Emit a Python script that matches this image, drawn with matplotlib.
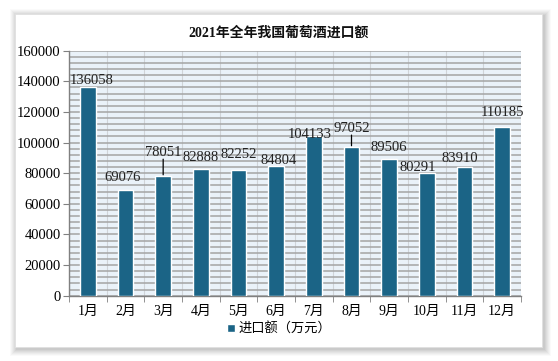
import matplotlib
matplotlib.use("Agg")
from matplotlib import pyplot as plt
from matplotlib.patches import Rectangle
from matplotlib.ticker import MultipleLocator
import numpy as np

months = ["1月", "2月", "3月", "4月", "5月", "6月", "7月", "8月", "9月", "10月", "11月", "12月"]
imports = [136058, 69076, 78051, 82888, 82252, 84804, 104133, 97052, 89506, 80291, 83910, 110185]

# label offsets in pixels (dx, dy) from top of bar, and which ones get a leader line
lab_dx = [4, -3, 0, 0, 0, 2, -4, 0, 0, -9, -5, 0]
lab_dy = [7, 12, 24, 11, 15, 5, 2, 19, 11, 5, 9, 14]
leader = [False, False, True, False, False, False, False, True, False, False, False, False]

plt.rcParams["font.family"] = ["Liberation Serif", "Noto Sans CJK SC", "DejaVu Sans"]

W, H = 558, 361
fig = plt.figure(figsize=(W / 100, H / 100), dpi=100)
fig.patch.set_facecolor("white")

# panel with a soft shadow
px0, py0, px1, py1 = 15, 14, 542, 347
for k, a in [(7, 0.04), (6, 0.05), (5, 0.06), (4, 0.07), (3, 0.08), (2, 0.09), (1, 0.1)]:
    fig.patches.append(Rectangle(((px0 - k + 2) / W, 1 - (py1 + k + 2) / H), (px1 - px0 + 2 * k) / W,
                                 (py1 - py0 + 2 * k) / H, transform=fig.transFigure,
                                 facecolor="#808080", edgecolor="none", alpha=a, zorder=0))
fig.patches.append(Rectangle((px0 / W, 1 - py1 / H), (px1 - px0) / W, (py1 - py0) / H,
                             transform=fig.transFigure, facecolor="white", edgecolor="#e0e0e0",
                             lw=0.6, zorder=1))

ax = fig.add_axes([69 / W, 1 - 295.7 / H, 452 / W, 245 / H])
ax.set_zorder(2)
ax.set_facecolor("#eaf2f9")

x = np.arange(len(months))
color = "#1b6486"
bars = ax.bar(x, imports, width=0.42, color=color, edgecolor="white", linewidth=1.0, zorder=3)

ax.set_xlim(-0.5, len(months) - 0.5)
ax.set_ylim(0, 160000)
ax.yaxis.set_major_locator(MultipleLocator(20000))
ax.yaxis.set_minor_locator(MultipleLocator(4000))
ax.grid(axis="y", which="both", color="#a4a4a4", linewidth=1.1, zorder=1)
for b in np.arange(-0.5, len(months), 1.0):
    ax.axvline(b, color="#d0d4d8", linewidth=0.8, zorder=1.5)

ax.set_xticks(x)
ax.set_xticklabels(months, fontsize=10)
ax.set_xticks(np.arange(-0.5, len(months), 1.0), minor=True)
ax.tick_params(axis="x", which="major", length=0, pad=7)
ax.tick_params(axis="x", which="minor", length=4, color="#808080", direction="out")
ax.tick_params(axis="y", which="major", length=4, color="#808080", labelsize=10.5, pad=2)
ax.tick_params(axis="y", which="minor", length=0)
for s in ["top", "right"]:
    ax.spines[s].set_visible(False)
for s in ["left", "bottom"]:
    ax.spines[s].set_color("#808080")
    ax.spines[s].set_linewidth(1.0)

for i, v in enumerate(imports):
    ax.annotate(f"{v}", xy=(x[i], v), xytext=(lab_dx[i] * 0.72, lab_dy[i] * 0.72),
                textcoords="offset points", ha="center", va="center", fontsize=10.5,
                color="#222222", zorder=5)
    if leader[i]:
        ax.annotate("", xy=(x[i], v), xytext=(0, (lab_dy[i] - 7) * 0.72),
                    textcoords="offset points",
                    arrowprops=dict(arrowstyle="-", color="black", lw=0.9, shrinkA=0, shrinkB=1))

fig.text(0.5, 1 - 33 / H, "2021年全年我国葡萄酒进口额", ha="center", va="center",
         fontsize=10, fontweight="bold", color="#111111")

ax.legend([bars], ["进口额（万元）"], loc="center", bbox_to_anchor=(0.5, 1 - 329 / H),
          bbox_transform=fig.transFigure, frameon=False, fontsize=9.5,
          handlelength=0.6, handleheight=0.6, handletextpad=0.3, borderpad=0.1)

fig.savefig("out.png", dpi=100, facecolor="white")
